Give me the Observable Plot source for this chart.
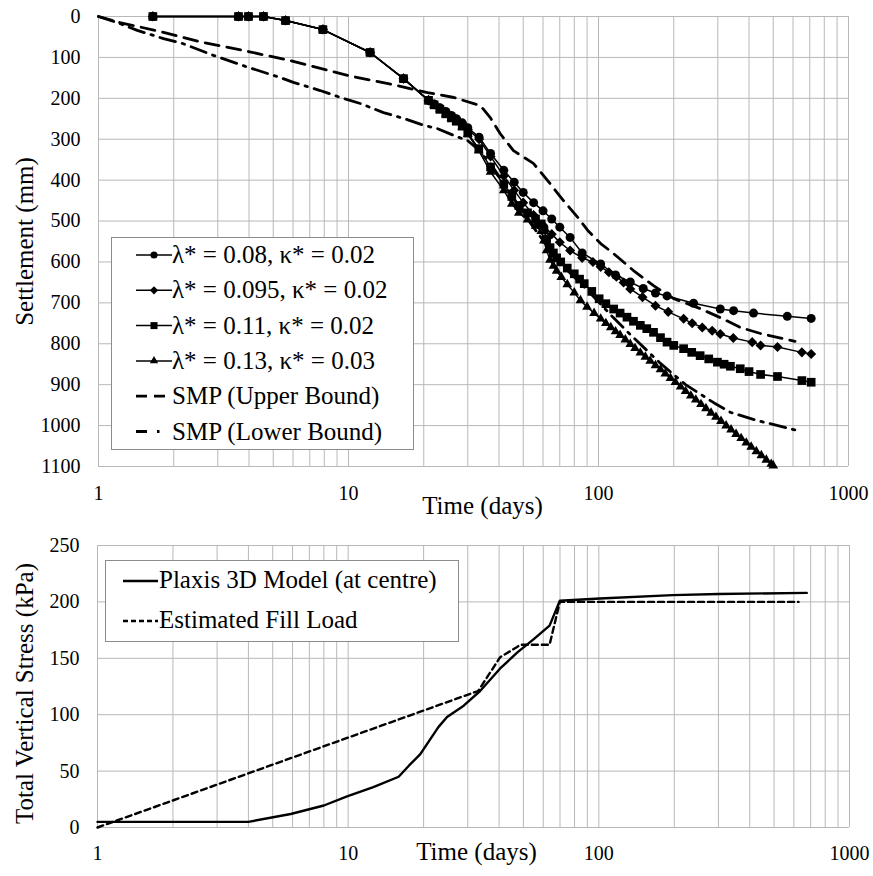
<!DOCTYPE html>
<html><head><meta charset="utf-8">
<script src="https://cdn.jsdelivr.net/npm/d3@7"></script>
<script src="https://cdn.jsdelivr.net/npm/@observablehq/plot@0.6"></script>
<style>
body{margin:0;background:#fff;}
#wrap{position:relative;width:873px;height:876px;background:#fff;}
#wrap svg{display:block;}
</style></head><body><div id="wrap"></div>
<script>
// ---------- DATA ----------
// Top chart: settlement (mm) vs time (days)
const t08 = [1.65,3.63,3.98,4.57,5.6,7.9,12.2,16.6,20.9,22,23.2,24.5,25.8,27,28.5,30,33.3,37,41.8,46,50,55,60,65,70,77,86,102,117,134,151,169,188,240,307,347,417,569,709];
const s08 = [0,0,0,0,10,32,88,152,205,214,223,232,242,250,260,272,295,335,376,405,430,455,475,495,515,540,578,605,632,649,665,676,683,701,715,719,725,733,738];

const t095 = [1.65,3.63,3.98,4.57,5.6,7.9,12.2,16.6,20.9,22,23.2,24.5,25.8,27,28.5,30,33.3,37,41.8,46,50,55,60,65,70,77,86,95,102,110,118,126,134,150,169,190,219,237,260,285,307,346,412,445,520,651,709];
const s095 = [0,0,0,0,10,32,88,152,205,215,224,234,244,252,263,276,300,342,390,425,455,485,510,532,552,572,590,600,612,625,636,650,666,686,707,722,739,750,760,768,776,786,796,804,808,821,825];

const t11 = [1.65,3.63,3.98,4.57,5.6,7.9,12.2,16.6,20.9,22,23.2,24.5,25.8,27,28.5,30,33.2,37,41.8,45,48,52,56,59,60.5,62,64,66,68,70.6,75,80,84,87.7,94,100.6,107,115,122,130,138,147,156,166,177,188,200,219,236,255,276,299,318,337,369,400,445,520,651,709];
const s11 = [0,0,0,0,10,32,88,152,205,216,227,238,248,256,268,285,323,368,410,440,462,480,495,507,522,545,565,578,590,600,615,629,642,653,672,690,702,715,725,735,745,755,763,772,785,796,804,812,821,829,837,845,850,855,861,868,875,880,890,894];

const t13 = [1.65,3.63,3.98,4.57,5.6,7.9,12.2,16.6,20.9,22,23.2,24.5,25.8,27,28.5,30,33.2,37,41.8,45,48,52,56,59,60.5,62,64,66,68,71,75,80,84.7,90,96,102,107,112,117,122,128,134,140,147,154,161,169,177,185,194,203,213,223,234,245,257,269,282,295,309,324,339,355,372,390,408,428,448,469,491,500];
const s13 = [0,0,0,0,10,32,88,152,205,216,227,238,248,257,270,288,328,380,425,458,480,497,512,525,548,572,595,610,622,637,655,675,694,710,725,739,750,760,770,779,790,801,811,822,832,842,853,863,873,884,894,905,916,927,937,948,958,969,979,989,1000,1010,1021,1031,1042,1052,1063,1073,1084,1094,1098];

const tUpper = [1,1.2,1.45,1.77,2.56,3.8,5.86,9.9,15.7,20.7,26.4,33.7,36.9,40.4,45.7,54.9,62.6,72.4,82.6,90.6,102,114.6,138,166,199,255,307,369,445,611];
const sUpper = [0,14,25,37,62,83,108,144,169,186,198,218,247,286,328,359,401,450,491,523,555,579,621,658,689,714,736,760,775,794];

const tLower = [1,1.19,1.43,1.82,2.17,2.88,3.87,5.2,6.02,7.7,9.3,11.2,13.8,16.6,20,22.7,26.4,29.9,33,37,42,47,52,58,65,75,90.6,114.6,138,177,223,289,338,433,522,623];
const sLower = [0,15,34,54,66,95,122,147,161,181,198,213,235,249,266,274,291,303,325,360,410,455,495,535,575,620,670,736,785,848,900,944,968,988,1000,1012];

// Bottom chart: total vertical stress (kPa) vs time (days)
const tPlaxis = [1,4,5.9,8,9.9,12.6,15.9,17.5,19.4,22.9,24.8,28.9,33.6,40.4,47.2,55,63.6,69.9,101,197,301,675];
const vPlaxis = [5,5,12,19.5,27.5,35.7,45,55,65,89,98,108,121,141,155,167,179,201,203,206,207,208];
const tFill = [1,33,40.4,47.2,48.5,63.6,69.9,626];
const vFill = [0,121,151,160,162,162,200,200];

// Tick labels
const xTickLabels = [1,10,100,1000];
const yTicksTop = [0,100,200,300,400,500,600,700,800,900,1000,1100];
const yTicksBottom = [0,50,100,150,200,250];
const seriesNames = ["λ* = 0.08, κ* = 0.02","λ* = 0.095, κ* = 0.02","λ* = 0.11, κ* = 0.02","λ* = 0.13, κ* = 0.03","SMP (Upper Bound)","SMP (Lower Bound)"];
const stressNames = ["Plaxis 3D Model (at centre)","Estimated Fill Load"];

// ---------- STYLE ----------
const FONT = "'Liberation Serif','Times New Roman',serif";
const GRID = "#b8b8b8";
const gridT = [1,10,100].flatMap(d => [1,2,3,4,5,6,7,8,9].map(k => k*d)).concat([1000]);

const diamond = {draw(ctx, size){const h=Math.sqrt(size/2);ctx.moveTo(0,-h);ctx.lineTo(h,0);ctx.lineTo(0,h);ctx.lineTo(-h,0);ctx.closePath();}};

function seriesMarks(t, s, symbol, r) {
  const d = {length: t.length};
  return [
    Plot.line(d, {x: t, y: s, stroke: "black", strokeWidth: 1.5}),
    Plot.dot(d, {x: t, y: s, symbol, r, fill: "black", stroke: "none"})
  ];
}

const topChart = Plot.plot({
  width: 873, height: 520,
  marginTop: 16, marginBottom: 54, marginLeft: 98, marginRight: 25,
  x: {type: "log", domain: [1, 1000]},
  y: {domain: [0, 1100], reverse: true},
  style: {fontFamily: FONT, fontSize: "20px", color: "black", background: "white"},
  marks: [
    Plot.gridX({ticks: gridT, stroke: GRID, strokeOpacity: 1}),
    Plot.gridY({ticks: yTicksTop, stroke: GRID, strokeOpacity: 1}),
    Plot.axisX({ticks: xTickLabels, tickFormat: d => String(d), tickSize: 0, tickPadding: 19, label: null}),
    Plot.axisY({ticks: yTicksTop, tickFormat: d => String(d), tickSize: 0, tickPadding: 18, label: null}),
    Plot.line({length: tUpper.length}, {x: tUpper, y: sUpper, stroke: "black", strokeWidth: 2.8, strokeDasharray: "14,8"}),
    Plot.line({length: tLower.length}, {x: tLower, y: sLower, stroke: "black", strokeWidth: 2.8, strokeDasharray: "16,7,2.5,7"}),
    ...seriesMarks(t08, s08, "circle", 4.5),
    ...seriesMarks(t095, s095, diamond, 4),
    ...seriesMarks(t11, s11, "square", 4.9),
    ...seriesMarks(t13, s13, "triangle", 3.6),
    Plot.text(["Time (days)"], {text: d => d, frameAnchor: "bottom", textAnchor: "middle", lineAnchor: "bottom", dy: 47, dx: 9, fontSize: 25}),
    Plot.text(["Settlement (mm)"], {text: d => d, frameAnchor: "left", textAnchor: "middle", lineAnchor: "bottom", rotate: -90, dx: -66, fontSize: 25})
  ]
});

const bottomChart = Plot.plot({
  width: 873, height: 356,
  marginTop: 25, marginBottom: 49, marginLeft: 97, marginRight: 24,
  x: {type: "log", domain: [1, 1000]},
  y: {domain: [0, 250]},
  style: {fontFamily: FONT, fontSize: "20px", color: "black", background: "white"},
  marks: [
    Plot.gridX({ticks: gridT, stroke: GRID, strokeOpacity: 1}),
    Plot.gridY({ticks: yTicksBottom, stroke: GRID, strokeOpacity: 1}),
    Plot.axisX({ticks: xTickLabels, tickFormat: d => String(d), tickSize: 0, tickPadding: 18, label: null}),
    Plot.axisY({ticks: yTicksBottom, tickFormat: d => String(d), tickSize: 0, tickPadding: 18, label: null}),
    Plot.line({length: tFill.length}, {x: tFill, y: vFill, stroke: "black", strokeWidth: 2.4, strokeDasharray: "6,4"}),
    Plot.line({length: tPlaxis.length}, {x: tPlaxis, y: vPlaxis, stroke: "black", strokeWidth: 2.4}),
    Plot.text(["Time (days)"], {text: d => d, frameAnchor: "bottom", textAnchor: "middle", lineAnchor: "bottom", dy: 32, dx: 3, fontSize: 25}),
    Plot.text(["Total Vertical Stress (kPa)"], {text: d => d, frameAnchor: "left", textAnchor: "middle", lineAnchor: "bottom", rotate: -90, dx: -65, dy: 7, fontSize: 25})
  ]
});

// ---------- LEGENDS (drawn inside the SVGs) ----------
function drawLegend(svg, box, rows) {
  const g = d3.select(svg).append("g")
    .style("font-family", FONT).style("font-size", "25px")
    .attr("fill", "black").attr("text-anchor", "start");
  g.append("rect").attr("x", box.x + 0.5).attr("y", box.y + 0.5).attr("width", box.w).attr("height", box.h)
    .attr("fill", "white").attr("stroke", "#8c8c8c").attr("stroke-width", 1);
  rows.forEach((r, i) => {
    const base = box.base + i * box.step;
    const ly = base - box.lineOff;
    g.append("line").attr("x1", box.lx1).attr("x2", box.lx2).attr("y1", ly).attr("y2", ly)
      .attr("stroke", "black").attr("stroke-width", r.w).attr("stroke-dasharray", r.dash || null);
    if (r.sym) {
      g.append("path").attr("d", d3.symbol().type(r.sym).size(r.size)())
        .attr("transform", `translate(${(box.lx1 + box.lx2) / 2},${ly})`).attr("fill", "black");
    }
    g.append("text").attr("x", box.tx).attr("y", base)
      .style("font-family", FONT).style("font-size", "25px").style("text-anchor", "start")
      .text(r.label);
  });
}

drawLegend(topChart, {x: 111, y: 237, w: 302, h: 212, base: 263, step: 35.3, lineOff: 8, lx1: 136, lx2: 172, tx: 172}, [
  {label: seriesNames[0], w: 1.5, sym: d3.symbolCircle, size: 40},
  {label: seriesNames[1], w: 1.5, sym: diamond, size: 34},
  {label: seriesNames[2], w: 1.5, sym: d3.symbolSquare, size: 49},
  {label: seriesNames[3], w: 1.5, sym: d3.symbolTriangle, size: 30},
  {label: seriesNames[4], w: 2.8, dash: "11,7"},
  {label: seriesNames[5], w: 2.8, dash: "11,10,2.5,30"}
]);

drawLegend(bottomChart, {x: 105, y: 40, w: 353, h: 81, base: 68, step: 40, lineOff: 7, lx1: 123, lx2: 158, tx: 159}, [
  {label: stressNames[0], w: 2.4},
  {label: stressNames[1], w: 2.4, dash: "5,3"}
]);

const wrap = document.getElementById("wrap");
wrap.appendChild(topChart);
wrap.appendChild(bottomChart);
</script></body></html>
